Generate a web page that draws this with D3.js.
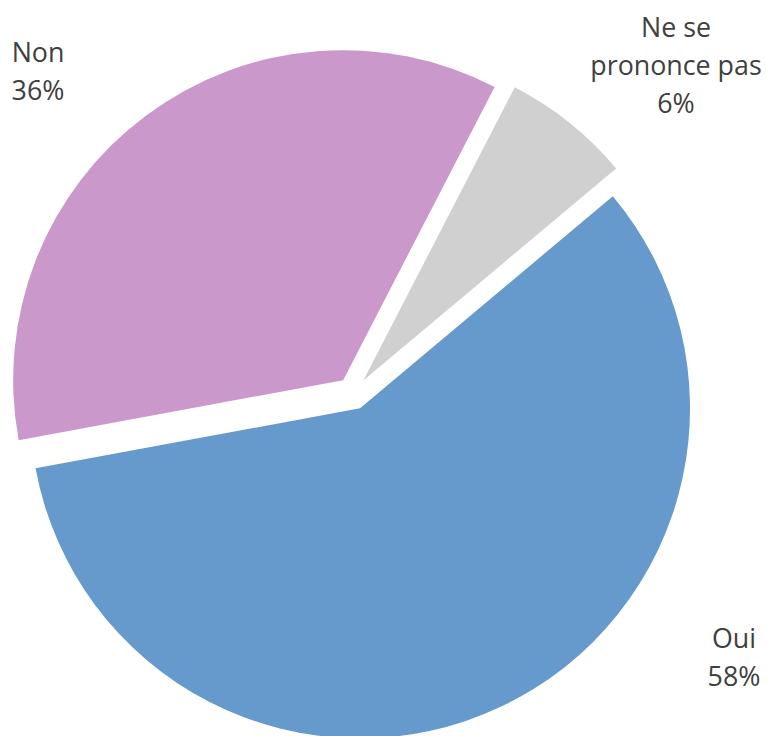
<!DOCTYPE html>
<html>
<head>
<meta charset="utf-8">
<script src="https://cdn.jsdelivr.net/npm/d3@7"></script>
<style>
  html, body { margin: 0; padding: 0; background: #fff; }
  svg { display: block; }
</style>
</head>
<body>
<svg id="chart" width="766" height="736"></svg>
<script>
// Data
const categories = ["Oui", "Non", "Ne se prononce pas"];
const values = [58.2, 35.5, 6.3];
const percentLabels = ["58%", "36%", "6%"];
const labelLines = [["Oui"], ["Non"], ["Ne se", "prononce pas"]];
const colors = ["#6699cc", "#ca98cb", "#d0d0d0"];

const svg = d3.select("#chart");
const cx = 353, cy = 393.4, radius = 330, explode = 16.5;
const startDeg = 50;

const pie = d3.pie().sort(null).value(d => d.v)
  .startAngle(startDeg * Math.PI / 180)
  .endAngle((startDeg + 360) * Math.PI / 180);
const data = categories.map((c, i) => ({ c, v: values[i], i }));
const arcs = pie(data);
const arc = d3.arc().innerRadius(0).outerRadius(radius);

const g = svg.append("g").attr("transform", `translate(${cx},${cy})`);
g.selectAll("path").data(arcs).enter().append("path")
  .attr("d", arc)
  .attr("fill", d => colors[d.data.i])
  .attr("transform", d => {
    const a = (d.startAngle + d.endAngle) / 2;
    return `translate(${explode * Math.sin(a)},${-explode * Math.cos(a)})`;
  });

// Labels (positions follow the reference's outside label placement)
const labelPos = [
  { x: 734, y: 648 },
  { x: 38, y: 62 },
  { x: 676, y: 37 }
];
const lh = 38;
arcs.forEach((d, k) => {
  const i = d.data.i;
  const lines = labelLines[i].concat([percentLabels[i]]);
  const t = svg.append("text")
    .attr("text-anchor", "middle")
    .attr("font-family", "'Open Sans', sans-serif")
    .attr("font-size", 26.8)
    .attr("fill", "#404040");
  lines.forEach((ln, j) => {
    t.append("tspan").attr("x", labelPos[i].x).attr("y", labelPos[i].y + j * lh).text(ln);
  });
});
</script>
</body>
</html>
